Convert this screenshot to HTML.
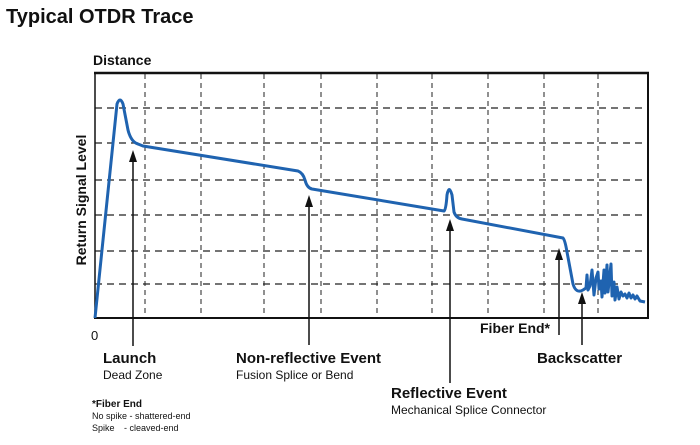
<!DOCTYPE html>
<html><head><meta charset="utf-8"><style>
body{margin:0;background:#fff;}
svg text{font-family:"Liberation Sans",Arial,sans-serif;fill:#111;}
</style></head><body>
<svg width="700" height="440" viewBox="0 0 700 440" xmlns="http://www.w3.org/2000/svg">
<text x="6" y="23" font-size="20" font-weight="bold">Typical OTDR Trace</text>
<text x="93" y="65" font-size="14" font-weight="bold">Distance</text>
<text transform="translate(86,200) rotate(-90)" font-size="14" font-weight="bold" text-anchor="middle">Return Signal Level</text>
<g stroke="#222" stroke-width="1.2" stroke-dasharray="7,5">
<line x1="95" y1="108" x2="648" y2="108"/><line x1="95" y1="143" x2="648" y2="143"/>
<line x1="95" y1="180" x2="648" y2="180"/><line x1="95" y1="215" x2="648" y2="215"/>
<line x1="95" y1="251" x2="648" y2="251"/><line x1="95" y1="284" x2="648" y2="284"/>
</g>
<g stroke="#222" stroke-width="1" stroke-dasharray="5,4">
<line x1="145" y1="74" x2="145" y2="318"/><line x1="201" y1="74" x2="201" y2="318"/>
<line x1="264" y1="74" x2="264" y2="318"/><line x1="321" y1="74" x2="321" y2="318"/>
<line x1="377" y1="74" x2="377" y2="318"/><line x1="432" y1="74" x2="432" y2="318"/>
<line x1="488" y1="74" x2="488" y2="318"/><line x1="544" y1="74" x2="544" y2="318"/>
<line x1="598" y1="74" x2="598" y2="318"/>
</g>
<line x1="94" y1="73" x2="649" y2="73" stroke="#111" stroke-width="2.5"/>
<line x1="95" y1="73" x2="95" y2="318" stroke="#111" stroke-width="1.5"/>
<line x1="648" y1="73" x2="648" y2="318" stroke="#111" stroke-width="2"/>
<line x1="94" y1="318" x2="649" y2="318" stroke="#111" stroke-width="2"/>
<path d="M95,318 L117,104 Q120,96 123,104 L128,130 Q131,142 138,144 L143,146 L298,171 Q303,173 305,180 Q307,188 312,189 L444,211 Q446,210 447,195 Q449,184 452,195 L454,212 Q456,218 462,219 L563,238 Q565,240 567,252 L573,284 Q576,294 583,290 L586,288 L587,275 L588,290 L590,286 L592,270 L594,295 L596,278 L598,272 L599,289 L601,281 L602,297 L604,270 L605,293 L607,265 L608,292 L611,264 L612,296 L614,282 L615,300 L617,287 L619,299 L621,292 L623,296 L625,294 L627,298 L629,293 L631,298 L633,295 L635,299 L637,296 L640,301 L645,302" fill="none" stroke="#1f63b0" stroke-width="3" stroke-linejoin="round"/>
<g stroke="#111" stroke-width="1.5">
<line x1="133" y1="346" x2="133" y2="160"/>
<line x1="309" y1="345" x2="309" y2="205"/>
<line x1="450" y1="383" x2="450" y2="229"/>
<line x1="559" y1="335" x2="559" y2="258"/>
<line x1="582" y1="345" x2="582" y2="301"/>
</g>
<g fill="#111">
<polygon points="133,150 129,162 137,162"/>
<polygon points="309,195 305,207 313,207"/>
<polygon points="450,219 446,231 454,231"/>
<polygon points="559,248 555,260 563,260"/>
<polygon points="582,292 578,304 586,304"/>
</g>
<text x="91" y="340" font-size="13">0</text>
<text x="103" y="363" font-size="15" font-weight="bold">Launch</text>
<text x="103" y="379" font-size="12">Dead Zone</text>
<text x="236" y="363" font-size="15" font-weight="bold">Non-reflective Event</text>
<text x="236" y="379" font-size="12">Fusion Splice or Bend</text>
<text x="391" y="398" font-size="15" font-weight="bold">Reflective Event</text>
<text x="391" y="414" font-size="12">Mechanical Splice Connector</text>
<text x="480" y="333" font-size="14" font-weight="bold">Fiber End*</text>
<text x="537" y="363" font-size="15" font-weight="bold">Backscatter</text>
<text x="92" y="407" font-size="10" font-weight="bold">*Fiber End</text>
<text x="92" y="419" font-size="9">No spike - shattered-end</text>
<text x="92" y="431" font-size="9">Spike</text>
<text x="124" y="431" font-size="9">- cleaved-end</text>
</svg>
</body></html>
